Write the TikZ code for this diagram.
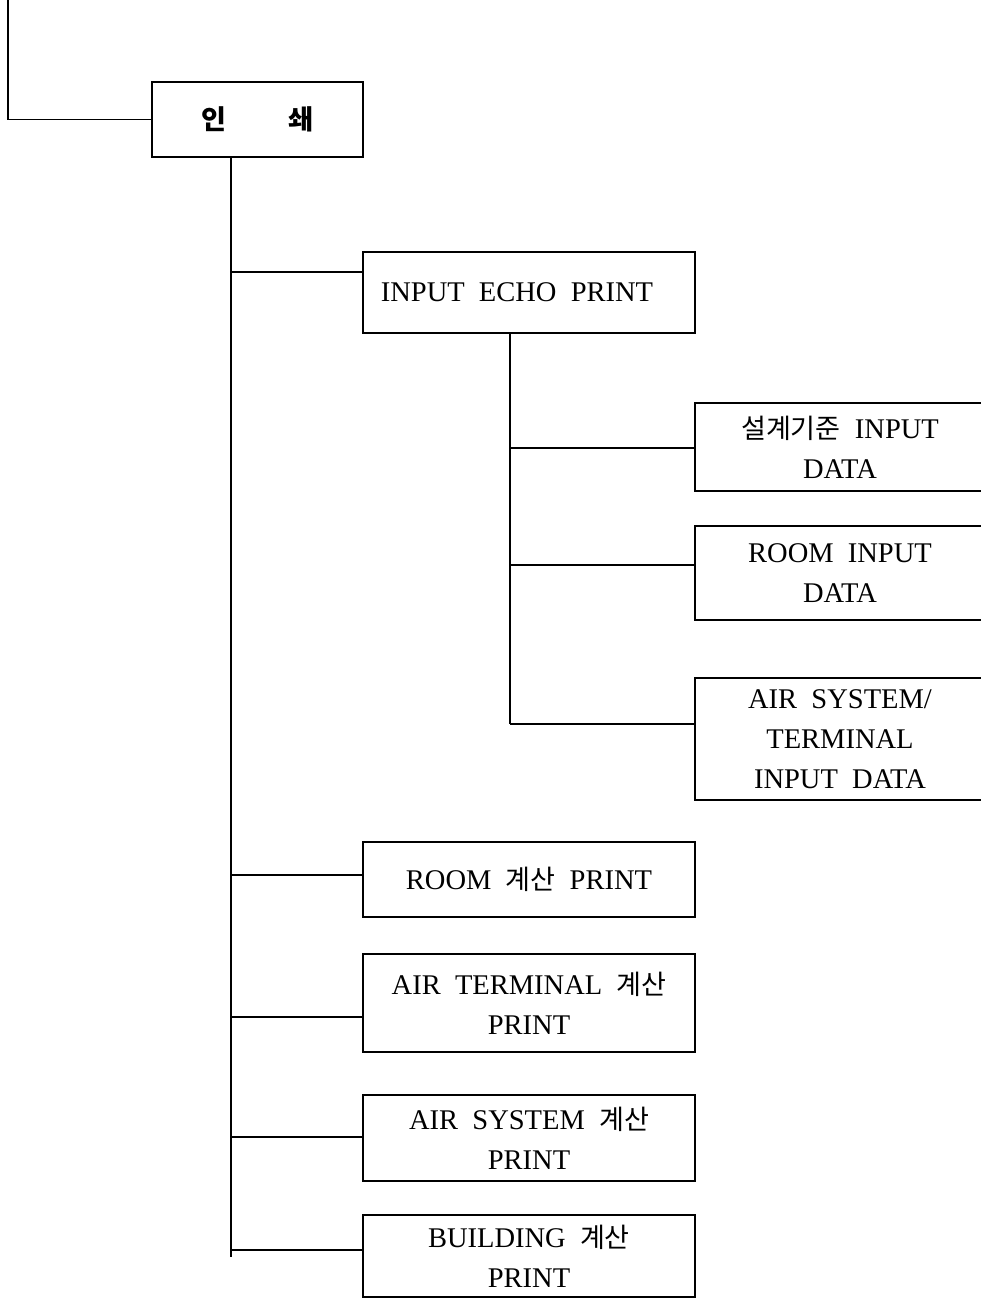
\documentclass[tikz,border=0pt]{standalone}
\usepackage{fontspec}
\setmainfont{Liberation Serif}
\newfontfamily\cjk[Scale=0.95]{Noto Sans CJK KR}
\newcommand\kr[1]{{\cjk #1}}
\begin{document}
\begin{tikzpicture}[x=1pt,y=-1pt,line width=1.8pt,
  box/.style={draw,line width=1.8pt,inner sep=0pt,align=center,
    font=\fontsize{28.5}{40}\selectfont},
  wide/.style={box,minimum width=332pt},
  side/.style={box,minimum width=290pt}]
\path[use as bounding box] (0,0) rectangle (981,1299);
\clip (0,0) rectangle (981,1299);
% nodes
\node[box,minimum width=211pt,minimum height=75pt] (p) at (257.5,119.5) {{\cjk\bfseries 인}\hspace{2.2em}{\cjk\bfseries 쇄}};
\node[wide,minimum height=81pt] (echo) at (529,292.5) {\hspace*{-24pt}INPUT\ \ ECHO\ \ PRINT};
\node[side,minimum height=88pt] (d1) at (840,447) {\kr{설계기준}\ \ INPUT\\DATA};
\node[side,minimum height=94pt] (d2) at (840,573) {ROOM\ \ INPUT\\DATA};
\node[side,minimum height=122pt] (d3) at (840,739) {AIR\ \ SYSTEM/\\TERMINAL\\INPUT\ \ DATA};
\node[wide,minimum height=75pt] (r1) at (529,879.5) {ROOM\ \ \kr{계산}\ \ PRINT};
\node[wide,minimum height=98pt] (r2) at (529,1003) {AIR\ \ TERMINAL\ \ \kr{계산}\\PRINT};
\node[wide,minimum height=86pt] (r3) at (529,1138) {AIR\ \ SYSTEM\ \ \kr{계산}\\PRINT};
\node[wide,minimum height=82pt] (r4) at (529,1256) {BUILDING\ \ \kr{계산}\\PRINT};
% coordinates
\coordinate (top) at (8,0);
\coordinate (t1) at (231,1257);
\coordinate (b1) at (231,272);
\coordinate (b5) at (231,875);
\coordinate (b6) at (231,1017);
\coordinate (b7) at (231,1137);
\coordinate (b8) at (231,1250);
\coordinate (s1) at (510,722);
\coordinate (c1) at (510,448);
\coordinate (c2) at (510,565);
\coordinate (c3) at (510,724);
% connectors
\draw (top) |- (p.west);
\draw (p.south -| t1) -- (t1);
\draw (b1) -- (b1 -| echo.west);
\draw (b5) -- (b5 -| r1.west);
\draw (b6) -- (b6 -| r2.west);
\draw (b7) -- (b7 -| r3.west);
\draw (b8) -- (b8 -| r4.west);
\draw (echo.south -| s1) -- (c3);
\draw (c1) -- (c1 -| d1.west);
\draw (c2) -- (c2 -| d2.west);
\draw (c3) -- (c3 -| d3.west);
\end{tikzpicture}
\end{document}
